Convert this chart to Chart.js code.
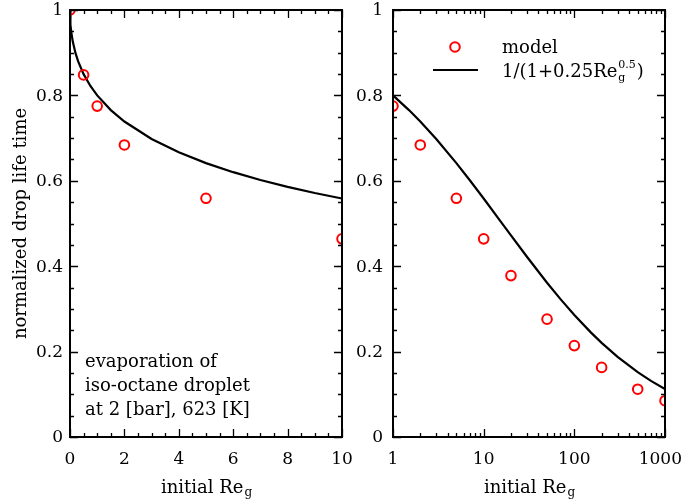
<!DOCTYPE html>
<html>
<head>
<meta charset="utf-8">
<script src="https://cdn.jsdelivr.net/npm/chart.js@4"></script>
<style>
  html, body { margin: 0; padding: 0; background: #fff; }
  #wrap { position: relative; width: 683px; height: 503px; }
  #cA { position: absolute; left: 0; top: 0; }
  #cB { position: absolute; left: 323px; top: 0; }
</style>
</head>
<body>
<div id="wrap">
  <canvas id="cA" width="360" height="503"></canvas>
  <canvas id="cB" width="360" height="503"></canvas>
</div>
<script>
// ---- data ----
const modelReLeft = [0, 0.5, 1, 2, 5, 10];
const modelTimeLeft = [1.0, 0.848, 0.775, 0.684, 0.559, 0.464];
const modelReRight = [1, 2, 5, 10, 20, 50, 100, 200, 500, 1000];
const modelTimeRight = [0.775, 0.684, 0.559, 0.464, 0.378, 0.276, 0.214, 0.163, 0.112, 0.085];
// correlation 1/(1+0.25 Re^0.5), tabulated
const corrReLeft = [0, 0.01, 0.02, 0.05, 0.1, 0.2, 0.3, 0.5, 0.75, 1, 1.5, 2, 3, 4, 5, 6, 7, 8, 9, 10];
const corrTimeLeft = [1.0, 0.9756, 0.9658, 0.9471, 0.9267, 0.8994, 0.8796, 0.8498, 0.8220, 0.8, 0.7656, 0.7388, 0.6979, 0.6667, 0.6414, 0.6202, 0.6019, 0.5858, 0.5714, 0.5585];
const corrReRight = [1, 1.5, 2, 3, 5, 7, 10, 15, 20, 30, 50, 70, 100, 150, 200, 300, 500, 700, 1000];
const corrTimeRight = [0.8, 0.7656, 0.7388, 0.6979, 0.6414, 0.6019, 0.5585, 0.5081, 0.4721, 0.4221, 0.3613, 0.3235, 0.2857, 0.2462, 0.2205, 0.1876, 0.1517, 0.1313, 0.1123];
// ticks
const yMajorTicks = [0, 0.2, 0.4, 0.6, 0.8, 1];
const yTickLabels = ['0', '0.2', '0.4', '0.6', '0.8', '1'];
const yMinorTicks = [0.05,0.1,0.15,0.25,0.3,0.35,0.45,0.5,0.55,0.65,0.7,0.75,0.85,0.9,0.95];
const xMajorTicksLeft = [0, 2, 4, 6, 8, 10];
const xTickLabelsLeft = ['0', '2', '4', '6', '8', '10'];
const xMinorTicksLeft = [0.5,1,1.5,2.5,3,3.5,4.5,5,5.5,6.5,7,7.5,8.5,9,9.5];
const xMajorTicksRight = [1, 10, 100, 1000];
const xTickLabelsRight = ['1', '10', '100', '1000'];
const xMinorTicksRight = [2,3,4,5,6,7,8,9,20,30,40,50,60,70,80,90,200,300,400,500,600,700,800,900];
const annotationLines = ['evaporation of', 'iso-octane droplet', 'at 2 [bar], 623 [K]'];

const FONT = '"DejaVu Serif", serif';
const FS = 18;
const TFS = 17;

function drawSubLabel(ctx, cx, baseline, main, sub) {
  ctx.save();
  ctx.fillStyle = '#000';
  ctx.textBaseline = 'alphabetic';
  ctx.font = FS + 'px ' + FONT;
  const w1 = ctx.measureText(main).width;
  ctx.font = '12px ' + FONT;
  const w2 = ctx.measureText(sub).width;
  const x0 = cx - (w1 + w2) / 2;
  ctx.font = FS + 'px ' + FONT;
  ctx.textAlign = 'left';
  ctx.fillText(main, x0, baseline);
  ctx.font = '12px ' + FONT;
  ctx.fillText(sub, x0 + w1 + 1, baseline + 3);
  ctx.restore();
}

function framePlugin(opts) {
  return {
    id: 'frameTicks',
    afterDatasetsDraw(chart) {
      const ctx = chart.ctx;
      const a = chart.chartArea;
      const xs = chart.scales.x, ys = chart.scales.y;
      ctx.save();
      ctx.strokeStyle = '#000';
      ctx.lineWidth = 1.3;
      const tick = (vals, len, axis) => {
        vals.forEach(v => {
          if (axis === 'x') {
            const p = Math.round(xs.getPixelForValue(v)) + 0.5;
            ctx.beginPath();
            ctx.moveTo(p, a.bottom); ctx.lineTo(p, a.bottom - len);
            ctx.moveTo(p, a.top); ctx.lineTo(p, a.top + len);
            ctx.stroke();
          } else {
            const p = Math.round(ys.getPixelForValue(v)) + 0.5;
            ctx.beginPath();
            ctx.moveTo(a.left, p); ctx.lineTo(a.left + len, p);
            ctx.moveTo(a.right, p); ctx.lineTo(a.right - len, p);
            ctx.stroke();
          }
        });
      };
      tick(opts.xMajor, 8, 'x');
      tick(opts.xMinor, 4, 'x');
      tick(yMajorTicks, 8, 'y');
      tick(yMinorTicks, 4, 'y');
      ctx.lineWidth = 2;
      ctx.strokeRect(a.left, a.top, a.right - a.left, a.bottom - a.top);
      // tick labels
      ctx.fillStyle = '#000';
      ctx.font = TFS + 'px ' + FONT;
      ctx.textAlign = 'center'; ctx.textBaseline = 'alphabetic';
      opts.xMajor.forEach((v, i) => {
        const lbl = opts.xLabels[i];
        let px = xs.getPixelForValue(v);
        const w = ctx.measureText(lbl).width;
        if (px + w / 2 > chart.width - 1) px = chart.width - 1 - w / 2;
        ctx.fillText(lbl, px, 464);
      });
      ctx.textAlign = 'right'; ctx.textBaseline = 'middle';
      yMajorTicks.forEach((v, i) => {
        ctx.fillText(yTickLabels[i], a.left - opts.yPad, ys.getPixelForValue(v) + 1);
      });
      ctx.restore();
      // x title
      drawSubLabel(ctx, (a.left + a.right) / 2, 493, 'initial Re', 'g');
      if (opts.extra) opts.extra(ctx, chart);
    }
  };
}

function makeChart(id, cfg) {
  return new Chart(document.getElementById(id), {
    type: 'scatter',
    data: {
      datasets: [
        {
          data: cfg.corrX.map((x, i) => ({x, y: cfg.corrY[i]})),
          showLine: true, borderColor: '#000', borderWidth: 2.2,
          pointRadius: 0, fill: false, tension: 0, clip: 0, order: 2
        },
        {
          data: cfg.modX.map((x, i) => ({x, y: cfg.modY[i]})),
          showLine: false, pointStyle: 'circle', pointRadius: 4.8,
          borderColor: '#ff0000', backgroundColor: 'rgba(0,0,0,0)',
          borderWidth: 2, clip: 0, order: 1
        }
      ]
    },
    options: {
      responsive: false, animation: false,
      layout: { padding: { left: 0, top: 10, right: 18, bottom: 0 } },
      plugins: { legend: { display: false }, tooltip: { enabled: false } },
      scales: {
        x: {
          type: cfg.xType, min: cfg.xMin, max: cfg.xMax,
          grid: { display: false, drawTicks: false },
          border: { display: false },
          afterFit: s => { s.height = 66; },
          ticks: { display: false }
        },
        y: {
          min: 0, max: 1,
          grid: { display: false, drawTicks: false },
          border: { display: false },
          afterFit: s => { s.width = 70; },
          ticks: { display: false }
        }
      }
    },
    plugins: [framePlugin({ xMajor: cfg.xMajor, xMinor: cfg.xMinor, xLabels: cfg.xLabels, yPad: cfg.yPad, extra: cfg.extra })]
  });
}

makeChart('cA', {
  xType: 'linear', xMin: 0, xMax: 10,
  xMajor: xMajorTicksLeft, xMinor: xMinorTicksLeft, xLabels: xTickLabelsLeft,
  corrX: corrReLeft, corrY: corrTimeLeft, modX: modelReLeft, modY: modelTimeLeft,
  yPad: 7,
  extra: (ctx, chart) => {
    ctx.save();
    ctx.fillStyle = '#000';
    ctx.font = FS + 'px ' + FONT;
    ctx.textAlign = 'left'; ctx.textBaseline = 'alphabetic';
    annotationLines.forEach((t, i) => ctx.fillText(t, 85, 367 + i * 24));
    // y title
    ctx.translate(26, (chart.chartArea.top + chart.chartArea.bottom) / 2);
    ctx.rotate(-Math.PI / 2);
    ctx.textAlign = 'center';
    ctx.fillText('normalized drop life time', 0, 0);
    ctx.restore();
  }
});

makeChart('cB', {
  xType: 'logarithmic', xMin: 1, xMax: 1000,
  xMajor: xMajorTicksRight, xMinor: xMinorTicksRight, xLabels: xTickLabelsRight,
  corrX: corrReRight, corrY: corrTimeRight, modX: modelReRight, modY: modelTimeRight,
  yPad: 10,
  extra: (ctx, chart) => {
    const off = 323;
    ctx.save();
    ctx.fillStyle = '#000';
    // legend marker
    ctx.strokeStyle = '#ff0000'; ctx.lineWidth = 2;
    ctx.beginPath(); ctx.arc(455 - off, 47, 4.8, 0, Math.PI * 2); ctx.stroke();
    ctx.strokeStyle = '#000'; ctx.lineWidth = 2.2;
    ctx.beginPath(); ctx.moveTo(433 - off, 70); ctx.lineTo(478 - off, 70); ctx.stroke();
    ctx.font = FS + 'px ' + FONT; ctx.textAlign = 'left'; ctx.textBaseline = 'alphabetic';
    ctx.fillText('model', 502 - off, 53);
    let x = 502 - off;
    const main = '1/(1+0.25Re';
    ctx.fillText(main, x, 77);
    x += ctx.measureText(main).width + 1;
    ctx.font = '11px ' + FONT;
    ctx.fillText('g', x, 81);
    ctx.fillText('0.5', x, 68);
    x += ctx.measureText('0.5').width + 1;
    ctx.font = FS + 'px ' + FONT;
    ctx.fillText(')', x, 77);
    ctx.restore();
  }
});
</script>
</body>
</html>
